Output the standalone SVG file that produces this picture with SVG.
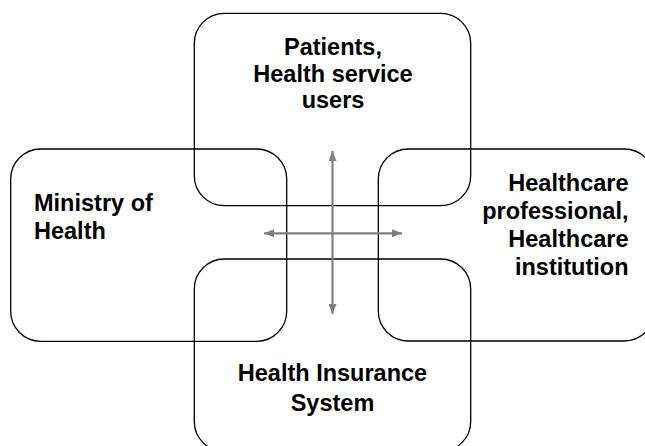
<svg xmlns="http://www.w3.org/2000/svg" width="645" height="446" viewBox="0 0 645 446">
  <style>
    .box { fill: none; stroke: #000; stroke-width: 1.3; }
    .lbl { font-family: "Liberation Sans", Arial, sans-serif; font-weight: bold; font-size: 23.5px; fill: #000; }
    .mid { text-anchor: middle; }
    .end { text-anchor: end; }
    .link { stroke: #808080; stroke-width: 2.2; fill: none; }
  </style>
  <defs>
    <marker id="head" viewBox="0 0 10 8" refX="10" refY="4" markerWidth="10" markerHeight="8" markerUnits="userSpaceOnUse" orient="auto-start-reverse">
      <path d="M0,0 L10,4 L0,8 Z" fill="#808080"/>
    </marker>
  </defs>
  <rect width="645" height="446" fill="#fff"/>

  <g id="patients">
    <rect class="box" x="194.3" y="13.3" width="276.4" height="192.4" rx="30" ry="30"/>
    <text class="lbl mid" x="333" y="55">Patients,</text>
    <text class="lbl mid" x="333" y="82">Health service</text>
    <text class="lbl mid" x="333" y="108">users</text>
  </g>

  <g id="ministry">
    <rect class="box" x="10.7" y="149" width="276" height="192.3" rx="30" ry="30"/>
    <text class="lbl" x="34" y="210.7">Ministry of</text>
    <text class="lbl" x="34" y="239.3">Health</text>
  </g>

  <g id="professionals">
    <rect class="box" x="378.3" y="149" width="276" height="192" rx="30" ry="30"/>
    <text class="lbl end" x="628.5" y="190.7">Healthcare</text>
    <text class="lbl end" x="628.5" y="218.5">professional,</text>
    <text class="lbl end" x="628.5" y="247">Healthcare</text>
    <text class="lbl end" x="628.5" y="275">institution</text>
  </g>

  <g id="insurance">
    <rect class="box" x="194.3" y="259" width="276.4" height="192.4" rx="30" ry="30"/>
    <text class="lbl mid" x="332.5" y="381">Health Insurance</text>
    <text class="lbl mid" x="332.5" y="410.5">System</text>
  </g>

  <g id="connectors">
    <line class="link" x1="332.5" y1="151" x2="332.5" y2="314" marker-start="url(#head)" marker-end="url(#head)"/>
    <line class="link" x1="264" y1="233.3" x2="402" y2="233.3" marker-start="url(#head)" marker-end="url(#head)"/>
  </g>
</svg>
